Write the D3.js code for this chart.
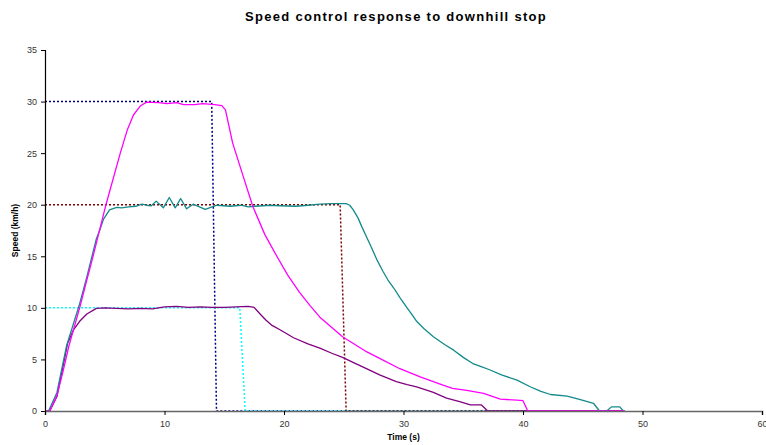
<!DOCTYPE html>
<html lang="en">
<head>
<meta charset="utf-8">
<title>Speed control response to downhill stop</title>
<script src="https://cdn.jsdelivr.net/npm/d3@7/dist/d3.min.js"></script>
<style>
    body { margin: 0; background: #fff; }
    svg { font-family: "Liberation Sans", Arial, sans-serif; }
    .tick text { font-size: 9px; fill: #333; }
    .title { font-size: 13px; font-weight: bold; letter-spacing: 1.3px; }
    .axis-title { font-size: 8.5px; font-weight: bold; }
</style>
</head>
<body>
<div id="chart"></div>
<script>
// measured speeds (time s, speed km/h)
var speed30 = [[0,0],[0.4,0],[1,1.5],[1.5,3.8],[2,6.3],[2.9,10],[3.5,12.7],[4,14.9],[5.1,20],[6.3,25],[6.9,27.3],
    [7.4,28.7],[8,29.6],[8.5,29.95],[9.5,29.9],[10.2,29.8],[11,29.9],[11.6,29.7],[12.5,29.7],[13.2,29.8],[14.2,29.7],
    [14.8,29.6],[15.1,29.2],[15.7,26],[16.6,22.7],[17.4,19.8],[18.4,17.1],[19.4,15],[20.3,13.2],[21.3,11.5],[22.2,10.2],
    [23,9.1],[24,8.1],[24.9,7.2],[26,6.4],[26.9,5.75],[28,5.1],[29.7,4.1],[31.4,3.3],[33.3,2.5],[34.1,2.2],[35.3,2.0],
    [36.7,1.7],[38.1,1.15],[39.5,1.05],[40,1.0],[40.4,0],[48.5,0]];
var speed20 = [[0,0],[0.3,0],[1,1.8],[1.8,6.3],[2.85,10.2],[3.5,13],[4.3,16.7],[4.6,17.6],[4.9,18.6],[5.4,19.5],
    [6,19.75],[6.4,19.7],[7,19.8],[7.6,19.85],[8.1,20.05],[8.5,19.95],[8.9,19.9],[9.3,20.35],[9.9,19.7],[10.4,20.7],
    [10.9,19.7],[11.35,20.6],[11.85,19.6],[12.4,20.05],[13.4,19.55],[14.4,19.95],[15.5,19.85],[16.4,19.95],[17,19.8],
    [17.6,19.85],[18.8,19.95],[19.7,19.9],[21,19.85],[22,19.95],[23,20.05],[24,20.1],[25.2,20.1],[25.5,19.95],
    [25.8,19.5],[26.2,18.7],[26.5,17.9],[26.9,16.9],[27.3,15.9],[27.8,14.6],[28.3,13.5],[28.7,12.7],[29.2,11.9],
    [29.7,11.0],[30.3,10.0],[30.8,9.2],[31.1,8.7],[31.7,8.0],[32.5,7.2],[33.5,6.4],[34.2,5.9],[35,5.2],[35.8,4.6],
    [36.5,4.3],[37.2,4.0],[38.2,3.5],[39.5,3.0],[40.6,2.35],[41.5,1.9],[42.3,1.6],[43.7,1.45],[44.8,1.1],[45.9,0.75],
    [46.4,0],[47,0],[47.4,0.4],[48.1,0.4],[48.4,0]];
var speed10 = [[0,0],[0.4,0],[1,1.4],[1.9,6.6],[2.4,7.9],[2.9,8.7],[3.5,9.4],[4.3,9.95],[5,10.0],[6,9.95],[7,9.9],
    [8,9.95],[9,9.9],[10,10.1],[11,10.15],[12,10.05],[13,10.1],[14,10.05],[15,10.05],[16,10.1],[17,10.15],[17.5,10.05],
    [18,9.4],[18.5,8.8],[19,8.3],[19.7,7.85],[20.8,7.1],[22,6.5],[23,6.1],[24,5.6],[24.9,5.2],[26,4.6],[26.9,4.1],
    [28,3.5],[29.4,2.85],[30.3,2.55],[31.1,2.35],[32.5,1.8],[33.6,1.25],[34.7,0.9],[35.6,0.6],[36.5,0.6],[37.05,0],[48.5,0]];

// set points
var set30 = [[0,30],[13.95,30],[14.35,0],[48.5,0]];
var set10 = [[0,10],[16.3,10],[16.75,0],[48.5,0]];
var set20 = [[0,20],[24.7,20],[25.2,0],[48.5,0]];

var xTicks = [0,10,20,30,40,50,60];
var yTicks = [0,5,10,15,20,25,30,35];

var width = 766, height = 445;
var margin = {left: 45, right: 4, top: 50, bottom: 34};

var svg = d3.select("#chart").append("svg")
    .attr("width", width)
    .attr("height", height);

var x = d3.scaleLinear().domain([0, 60]).range([margin.left, width - margin.right]);
var y = d3.scaleLinear().domain([0, 35]).range([height - margin.bottom, margin.top]);

var line = d3.line().x(d => x(d[0])).y(d => y(d[1]));

// dotted set points under the measured lines
[[set30, "#000080"], [set10, "#00ffff"], [set20, "#800000"]].forEach(function(s) {
    svg.append("path")
        .datum(s[0])
        .attr("d", line)
        .attr("fill", "none")
        .attr("stroke", s[1])
        .attr("stroke-width", 1.5)
        .attr("stroke-dasharray", "2,2");
});

[[speed10, "#800080"], [speed20, "#138a8a"], [speed30, "#ff00ff"]].forEach(function(s) {
    svg.append("path")
        .datum(s[0])
        .attr("d", line)
        .attr("fill", "none")
        .attr("stroke", s[1])
        .attr("stroke-width", 1.3)
        .attr("stroke-linejoin", "round");
});

var yAxis = svg.append("g")
    .attr("transform", "translate(" + margin.left + ",0)")
    .call(d3.axisLeft(y).tickValues(yTicks).tickSize(4).tickPadding(4));
yAxis.select(".domain").attr("stroke", "#000").attr("stroke-width", 1.2);

var xAxis = svg.append("g")
    .attr("transform", "translate(0," + y(0) + ")")
    .call(d3.axisBottom(x).tickValues(xTicks).tickSize(4).tickPadding(6));
xAxis.select(".domain").attr("stroke", "#666").attr("stroke-width", 1.6);

svg.append("text")
    .attr("class", "title")
    .attr("x", 396)
    .attr("y", 21)
    .attr("text-anchor", "middle")
    .text("Speed control response to downhill stop");

svg.append("text")
    .attr("class", "axis-title")
    .attr("x", x(30))
    .attr("y", 440)
    .attr("text-anchor", "middle")
    .text("Time (s)");

svg.append("text")
    .attr("class", "axis-title")
    .attr("transform", "translate(18," + y(17.5) + ") rotate(-90)")
    .attr("text-anchor", "middle")
    .text("Speed (km/h)");
</script>
</body>
</html>
